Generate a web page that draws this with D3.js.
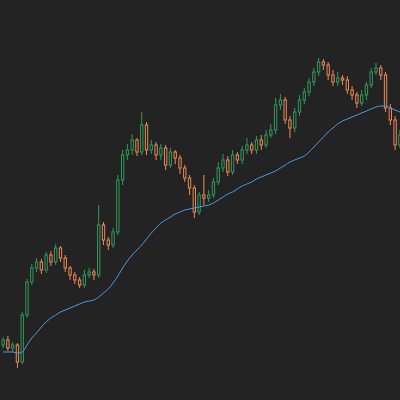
<!DOCTYPE html>
<html>
<head>
<meta charset="utf-8">
<script src="https://cdn.jsdelivr.net/npm/d3@7"></script>
<style>
  html, body { margin: 0; padding: 0; background: #232323; }
</style>
</head>
<body>
<svg id="chart" width="400" height="400"></svg>
<script>
// Candle data (price units)
const firstOpen = 55;
const closes = [60,52,55,38,85,118,132,138,130,145,138,152,142,132,125,120,115,125,128,125,
  175,160,155,168,220,245,250,260,248,275,250,255,245,252,235,248,242,232,222,212,
  188,205,202,205,218,232,240,228,245,240,250,255,250,260,255,265,270,295,300,280,
  272,288,300,308,318,328,338,335,325,318,322,320,310,305,297,305,315,328,332,325,
  292,280,255,265];
const highs = [63,64,58,57,88,121,136,142,141,148,149,156,154,145,134,128,123,130,132,131,
  195,178,163,172,225,250,256,266,262,288,278,260,258,256,255,252,250,245,235,225,
  215,208,225,210,222,238,246,244,250,248,254,262,258,264,265,270,276,302,306,303,
  284,292,305,312,322,332,342,341,338,330,328,325,324,314,308,310,318,332,337,335,
  328,296,284,270];
const lows = [52,49,48,32,36,82,115,128,126,127,134,135,138,128,120,116,112,112,122,120,
  122,155,150,152,165,215,240,245,244,245,245,246,240,240,230,232,236,226,218,205,
  182,185,195,198,202,215,228,224,225,236,236,246,246,246,250,252,262,266,290,276,
  262,268,284,296,304,314,324,330,320,314,314,315,306,300,292,294,300,312,325,320,
  288,275,250,252];
// 20-period moving average line as drawn
const movingAvg = [48,48,48,47,48,55,62,67,73,78,82,85,88,90,92,94,96,98,99,100,
  103,107,111,117,124,132,139,145,150,155,161,167,172,177,180,183,186,188,190,191,
  192,193,194,195,197,200,203,206,208,211,214,216,218,221,223,225,227,229,232,235,
  238,240,242,244,248,253,258,263,268,272,276,279,281,283,285,287,289,291,293,294,
  294,292,290,288];

const opens = [firstOpen, ...closes.slice(0, -1)];
const candles = closes.map((c, i) => ({ i, o: opens[i], h: highs[i], l: lows[i], c }));

const width = 400, height = 400;
const svg = d3.select("#chart");

svg.append("rect").attr("width", width).attr("height", height).attr("fill", "#232323");

const x = d3.scaleBand()
  .domain(d3.range(candles.length))
  .range([0, 403])
  .padding(0.3);

const y = d3.scaleLinear().domain([0, 400]).range([400, 0]);

const up = "#2f9a5c", down = "#ee8a55";

const g = svg.append("g");

const candle = g.selectAll("g.candle")
  .data(candles)
  .join("g")
  .attr("class", "candle");

candle.append("line")
  .attr("x1", d => x(d.i) + x.bandwidth() / 2)
  .attr("x2", d => x(d.i) + x.bandwidth() / 2)
  .attr("y1", d => y(d.h))
  .attr("y2", d => y(Math.max(d.o, d.c)))
  .attr("stroke", d => d.c >= d.o ? up : down)
  .attr("stroke-width", 1);

candle.append("line")
  .attr("x1", d => x(d.i) + x.bandwidth() / 2)
  .attr("x2", d => x(d.i) + x.bandwidth() / 2)
  .attr("y1", d => y(Math.min(d.o, d.c)))
  .attr("y2", d => y(d.l))
  .attr("stroke", d => d.c >= d.o ? up : down)
  .attr("stroke-width", 1);

candle.append("rect")
  .attr("x", d => x(d.i) + 0.5)
  .attr("width", x.bandwidth() - 1)
  .attr("y", d => y(Math.max(d.o, d.c)))
  .attr("height", d => Math.max(1, Math.abs(y(d.o) - y(d.c))))
  .attr("fill", "#232323")
  .attr("stroke", d => d.c >= d.o ? up : down)
  .attr("stroke-width", 1);

// moving average
const line = d3.line()
  .x((d, i) => x(i) + x.bandwidth() / 2)
  .y(d => y(d))
  .curve(d3.curveMonotoneX);

g.append("path")
  .datum(movingAvg)
  .attr("d", line)
  .attr("fill", "none")
  .attr("stroke", "#4c9be0")
  .attr("stroke-width", 1);
</script>
</body>
</html>
